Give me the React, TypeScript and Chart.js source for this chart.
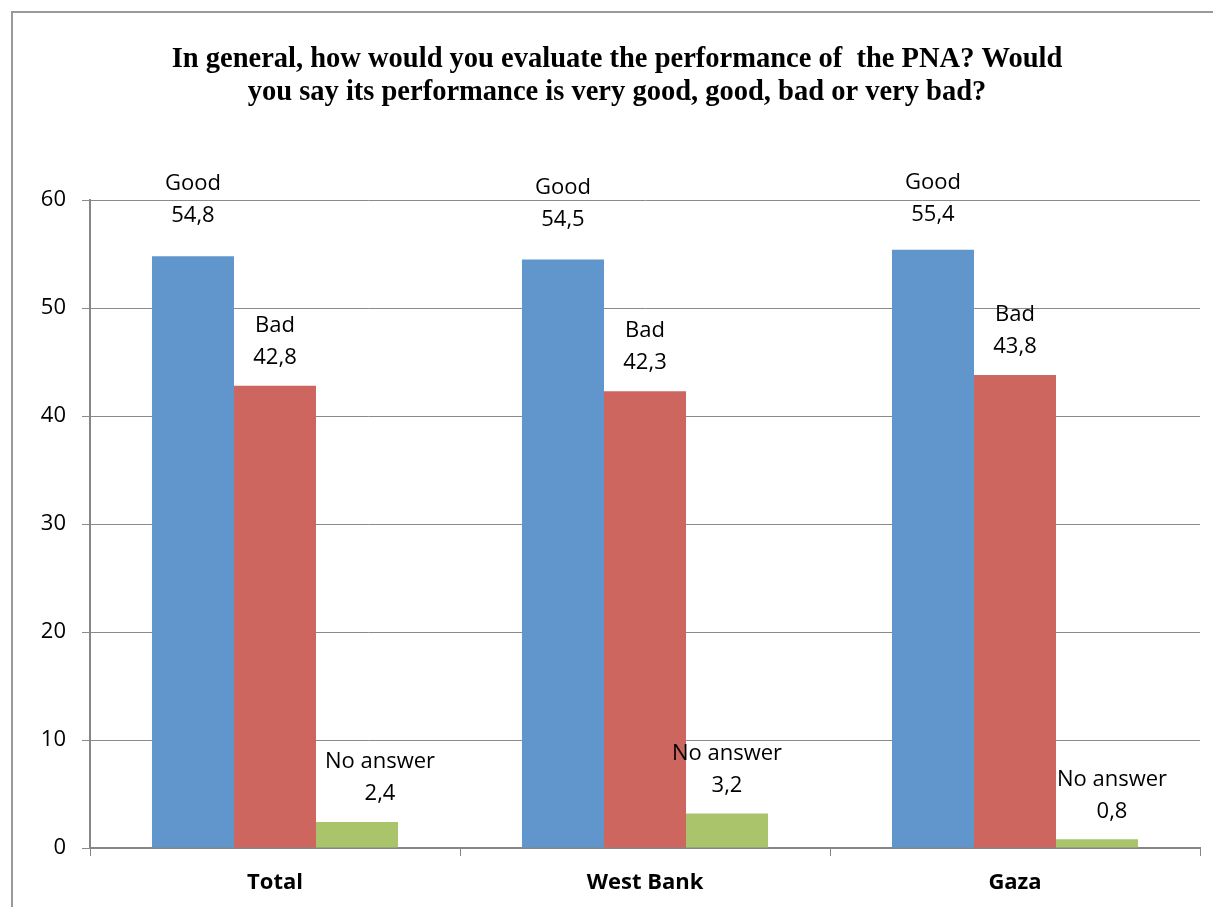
import React, { useEffect, useRef } from "react";
import { Chart, registerables } from "chart.js";

Chart.register(...registerables);

const categories = ["Total", "West Bank", "Gaza"];
const seriesNames = ["Good", "Bad", "No answer"];
const goodValues = [54.8, 54.5, 55.4];
const badValues = [42.8, 42.3, 43.8];
const noAnswerValues = [2.4, 3.2, 0.8];
const titleLines = [
  "In general, how would you evaluate the performance of  the PNA? Would",
  "you say its performance is very good, good, bad or very bad?",
];
const yTicks = [0, 10, 20, 30, 40, 50, 60];

const colors = ["#6096CB", "#CC665F", "#A9C46B"];
const labelFont = '22px "Open Sans", "Noto Sans", sans-serif';
const labelDx = [
  [0, 0, 0],
  [0, 0, 0],
  [23, 0, 15],
];

const framePlugin = {
  id: "frame",
  beforeDraw(chart: any) {
    const ctx = chart.ctx;
    ctx.save();
    ctx.fillStyle = "#ffffff";
    ctx.fillRect(0, 0, chart.width, chart.height);
    ctx.strokeStyle = "#9a9a9a";
    ctx.lineWidth = 2;
    ctx.strokeRect(12, 12, chart.width + 20, chart.height + 20);
    ctx.restore();
  },
};

const titlePlugin = {
  id: "titleLines",
  afterDraw(chart: any) {
    const ctx = chart.ctx;
    ctx.save();
    ctx.fillStyle = "#000";
    ctx.font = 'bold 28.5px "Liberation Serif", "DejaVu Serif", serif';
    ctx.textAlign = "center";
    ctx.textBaseline = "middle";
    titleLines.forEach((line, i) => {
      ctx.fillText(line, 617, 60 + i * 33);
    });
    ctx.restore();
  },
};

const labelPlugin = {
  id: "barLabels",
  afterDatasetsDraw(chart: any) {
    const ctx = chart.ctx;
    ctx.save();
    ctx.fillStyle = "#000";
    ctx.font = labelFont;
    ctx.textAlign = "center";
    ctx.textBaseline = "middle";
    chart.data.datasets.forEach((ds: any, di: number) => {
      const meta = chart.getDatasetMeta(di);
      meta.data.forEach((el: any, i: number) => {
        const v = ds.data[i] as number;
        const x = el.x + labelDx[di][i];
        const text = v.toFixed(1).replace(".", ",");
        const off = di === 0 ? 40 : 28;
        const y = Math.max(el.y - off, chart.chartArea.top + 15);
        ctx.fillText(text, x, y);
        ctx.fillText(ds.label, x, y - 32);
      });
    });
    ctx.restore();
  },
};

export default function App() {
  const ref = useRef<HTMLCanvasElement | null>(null);
  useEffect(() => {
    if (!ref.current) return;
    const chart = new Chart(ref.current, {
      type: "bar",
      data: {
        labels: categories,
        datasets: [goodValues, badValues, noAnswerValues].map((d, i) => ({
          label: seriesNames[i],
          data: d,
          backgroundColor: colors[i],
          borderWidth: 0,
          barPercentage: 1,
          categoryPercentage: 0.665,
        })),
      },
      options: {
        animation: false,
        responsive: false,
        maintainAspectRatio: false,
        layout: { padding: { top: 200, right: 13, left: 0, bottom: 0 } },
        plugins: {
          legend: { display: false },
          title: { display: false },
          tooltip: { enabled: false },
        },
        scales: {
          x: {
            grid: {
              offset: true,
              drawOnChartArea: false,
              drawTicks: true,
              tickLength: 8,
              color: "#868686",
              lineWidth: 1,
            },
            border: { color: "#868686", width: 2 },
            ticks: {
              color: "#000",
              font: { family: '"Open Sans", "Noto Sans", sans-serif', size: 22, weight: "bold" },
              padding: 14,
            },
            afterFit(scale: any) {
              scale.height = 59;
            },
          },
          y: {
            min: 0,
            max: 60,
            afterBuildTicks(scale: any) {
              scale.ticks = yTicks.map((v) => ({ value: v }));
            },
            grid: {
              color: "#8a8a8a",
              lineWidth: 1,
              tickLength: 8,
            },
            border: { color: "#868686", width: 2 },
            ticks: {
              color: "#000",
              font: { family: '"Open Sans", "Noto Sans", sans-serif', size: 22 },
              padding: 16,
            },
            afterFit(scale: any) {
              scale.width = 90;
            },
          },
        },
      },
      plugins: [framePlugin, titlePlugin, labelPlugin],
    });
    return () => chart.destroy();
  }, []);
  return (
    <div style={{ position: "absolute", left: 0, top: 0, width: 1213, height: 907 }}>
      <canvas ref={ref} width={1213} height={907} style={{ width: 1213, height: 907 }} />
    </div>
  );
}
